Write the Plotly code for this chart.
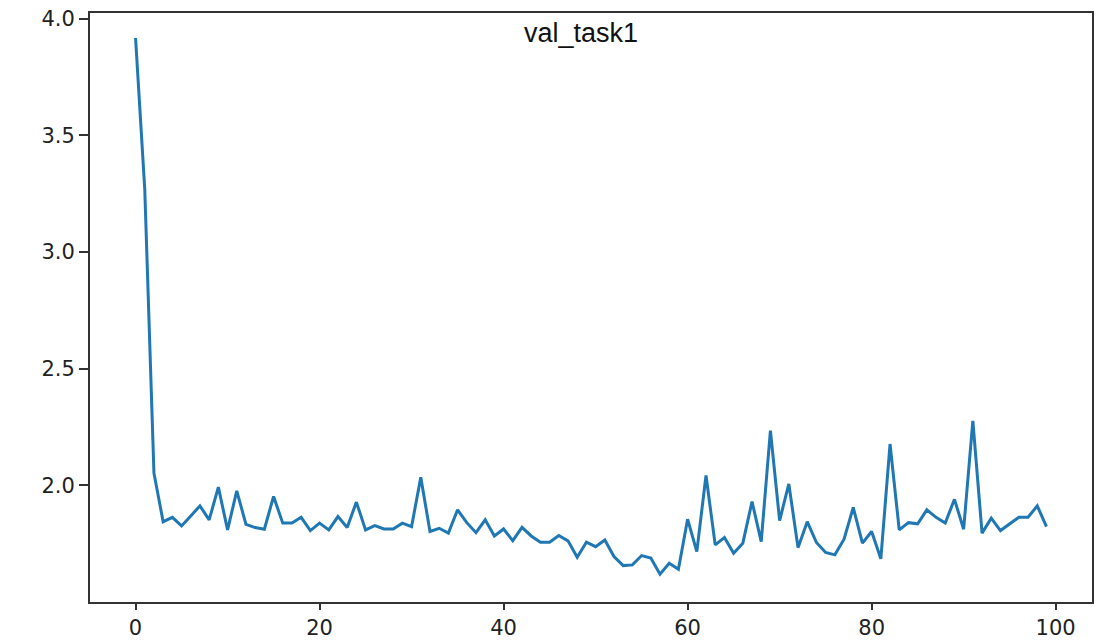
import plotly.graph_objects as go

epochs = list(range(100))
val_task1 = [
    3.917, 3.27, 2.052, 1.844, 1.863, 1.826, 1.869, 1.912, 1.852, 1.992,
    1.809, 1.976, 1.833, 1.819, 1.812, 1.952, 1.838, 1.838, 1.863, 1.806,
    1.838, 1.809, 1.866, 1.819, 1.928, 1.809, 1.827, 1.813, 1.813, 1.838,
    1.823, 2.035, 1.802, 1.816, 1.795, 1.895, 1.840, 1.797, 1.852, 1.783,
    1.813, 1.763, 1.820, 1.783, 1.756, 1.756, 1.785, 1.762, 1.692, 1.756,
    1.737, 1.766, 1.695, 1.656, 1.659, 1.699, 1.688, 1.619, 1.666, 1.640,
    1.855, 1.716, 2.042, 1.745, 1.776, 1.709, 1.752, 1.930, 1.759, 2.234,
    1.849, 2.006, 1.733, 1.844, 1.755, 1.712, 1.702, 1.769, 1.905, 1.752,
    1.802, 1.685, 2.177, 1.809, 1.840, 1.835, 1.895, 1.863, 1.838, 1.940,
    1.812, 2.276, 1.795, 1.859, 1.806, 1.835, 1.863, 1.863, 1.912, 1.823,
]
x_ticks = [0, 20, 40, 60, 80, 100]
y_ticks = [2.0, 2.5, 3.0, 3.5, 4.0]
title_text = "val_task1"

fig = go.Figure()
fig.add_trace(go.Scatter(
    x=epochs, y=val_task1, mode="lines",
    line=dict(color="#1f77b4", width=3),
    showlegend=False,
))

axis_common = dict(
    showgrid=False, zeroline=False, showline=True, mirror=True,
    linecolor="#333333", linewidth=2, automargin=False,
    ticks="outside", tickwidth=2, tickcolor="#333333",
    ticklabeloverflow="allow",
    tickfont=dict(family="DejaVu Sans", size=21, color="#222222"),
)

fig.update_layout(
    width=1099, height=641,
    margin=dict(l=90, r=7, t=13, b=39, autoexpand=False),
    paper_bgcolor="white", plot_bgcolor="white",
    xaxis=dict(range=[-4.95, 103.95], tickvals=x_ticks, ticklen=6,
               ticktext=[str(v) for v in x_ticks], **axis_common),
    yaxis=dict(range=[1.50, 4.024], tickvals=y_ticks, ticklen=9,
               ticktext=[f"{v:.1f}" for v in y_ticks], **axis_common),
    annotations=[dict(
        text=title_text, xref="paper", yref="paper", x=0.49, y=1,
        xanchor="center", yanchor="top", yshift=-3, showarrow=False,
        font=dict(family="Liberation Sans", size=27, color="#111111"),
    )],
)

fig.write_html(
    "out.html",
    config={"displayModeBar": False},
    post_script=(
        "document.documentElement.style.margin='0';"
        "document.documentElement.style.overflow='hidden';"
        "document.body.style.margin='0';"
        "document.body.style.overflow='hidden';"
    ),
)
